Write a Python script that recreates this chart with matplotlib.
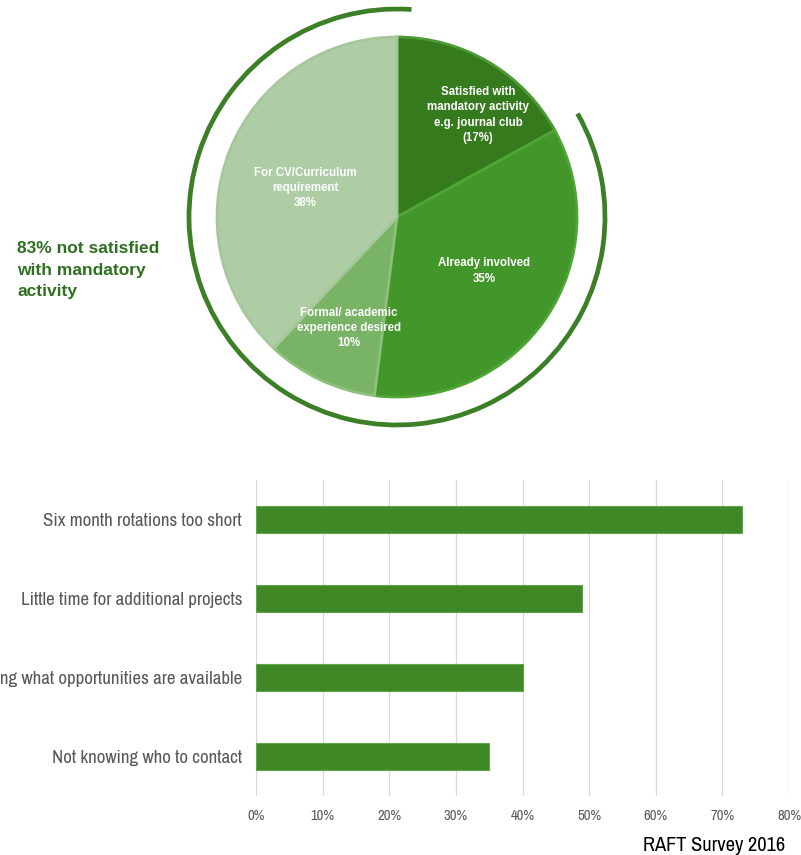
import matplotlib.pyplot as plt
from matplotlib.patches import Arc
from matplotlib.ticker import PercentFormatter
from matplotlib import font_manager

# pie data
pie_labels = ['Satisfied with\nmandatory activity\ne.g. journal club\n(17%)',
              'Already involved\n35%',
              'Formal/ academic\nexperience desired\n10%',
              'For CV/Curriculum\nrequirement\n38%']
pie_values = [17, 35, 10, 38]
pie_colors = ['#367a1e', '#43962a', '#78b366', '#aecda5']
pie_edges = ['#4c9a33', '#4fa535', '#8cc07b', '#a6c79c']

# bar data
bar_labels = ['Six month rotations too short',
              'Little time for additional projects',
              'Not knowing what opportunities are available',
              'Not knowing who to contact']
bar_values = [73, 49, 40, 35]

# look for a condensed face for the axis labels
names = sorted({f.name for f in font_manager.fontManager.ttflist})
narrow = [n for n in names if 'Narrow' in n or 'Condensed' in n]
NARROW = [narrow[0] if narrow else 'Liberation Sans', 'DejaVu Sans']
SANS = ['Liberation Sans', 'DejaVu Sans']

W, H = 801, 855
fig = plt.figure(figsize=(W / 100, H / 100), dpi=100)

# ---- pie, drawn in pixel-like data coords
ax = fig.add_axes([0, 0, 1, 1])
cx, cy, r = 397, H - 217, 180
wedges, _ = ax.pie(pie_values, center=(cx, cy), radius=r, startangle=90,
                   counterclock=False, colors=pie_colors,
                   wedgeprops=dict(linewidth=2.0))
for w, ec in zip(wedges, pie_edges):
    w.set_edgecolor(ec)
ax.set_xlim(0, W)
ax.set_ylim(0, H)
ax.set_aspect('equal')
ax.axis('off')

label_pos = [(478, 115), (484, 271), (349, 328), (305, 188)]
for txt, (x, y) in zip(pie_labels, label_pos):
    ax.text(x, H - y, txt, ha='center', va='center', color='white',
            fontsize=8.3, fontweight='bold', family=SANS, linespacing=1.38)

# outer arc = share not satisfied
not_sat = 100 - pie_values[0]
end = 90 - pie_values[0] / 100 * 360
ax.add_patch(Arc((cx, cy), 2 * 208, 2 * 208, theta1=end + 360 - not_sat / 100 * 360 - 4,
                 theta2=end + 360 + 1, color='#3b7f26', lw=3.4))

ax.text(17, H - 270, f'{not_sat}% not satisfied\nwith mandatory\nactivity', ha='left', va='center',
        color='#2f6f20', fontsize=12.5, fontweight='bold', family=SANS, linespacing=1.58)

# ---- bar chart
bx = fig.add_axes([256 / W, 1 - 796 / H, (789 - 256) / W, (796 - 480) / H])
ypos = list(range(len(bar_values)))
bx.barh(ypos, bar_values, height=0.34, color='#3e8826', edgecolor='#62a34b', linewidth=0.8,
        zorder=3)
bx.set_xlim(0, 80)
bx.set_ylim(len(bar_values) - 0.5, -0.5)
bx.set_yticks(ypos)
bx.set_yticklabels(bar_labels)
bx.set_xticks(range(0, 81, 10))
bx.xaxis.set_major_formatter(PercentFormatter(decimals=0))
bx.grid(axis='x', color='#d9d9d9', lw=0.9, zorder=0)
bx.patch.set_alpha(0)
for s in bx.spines.values():
    s.set_visible(False)
bx.tick_params(axis='y', length=0, pad=10, labelsize=13.6, labelcolor='#595959')
bx.tick_params(axis='x', length=0, pad=9, labelsize=10.5, labelcolor='#595959')
for t in bx.get_yticklabels() + bx.get_xticklabels():
    t.set_family(NARROW)

fig.text(714 / W, 1 - 845 / H, 'RAFT Survey 2016', ha='center', va='center', fontsize=14.7,
         family=NARROW, color='black')

fig.savefig('out.png', dpi=100)
